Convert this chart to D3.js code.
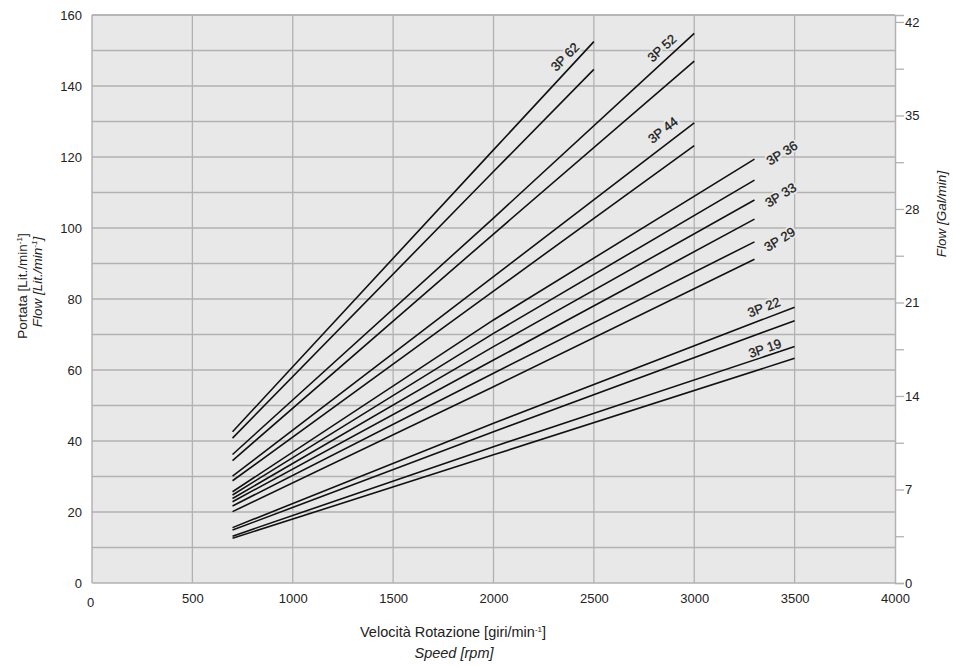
<!DOCTYPE html>
<html>
<head>
<meta charset="utf-8">
<script src="https://cdn.jsdelivr.net/npm/d3@7"></script>
<style>
  html, body { margin: 0; padding: 0; background: #fff; }
  svg { display: block; font-family: "Liberation Sans", Arial, sans-serif; }
</style>
</head>
<body>
<svg id="chart" width="953" height="667"></svg>
<script>
// ---- data ----
const models      = ["3P 62", "3P 52", "3P 44", "3P 36", "3P 33", "3P 29", "3P 22", "3P 19"];
const startSpeed  = [700, 700, 700, 700, 700, 700, 700, 700];
const midSpeed    = [2000, 2000, 2000, 2000, 2000, 2000, 2000, 2000];
const endSpeed    = [2500, 3000, 3000, 3300, 3300, 3300, 3500, 3500];
const upperStart  = [42.6, 36.2, 30.1, 25.7, 23.8, 21.7, 15.6, 13.2];
const upperMid    = [122.0, 102.8, 86.3, 74.1, 66.6, 59.1, 45.0, 38.4];
const upperEnd    = [152.5, 154.8, 129.6, 119.4, 107.9, 96.1, 77.7, 66.6];
const lowerStart  = [40.8, 34.5, 28.8, 24.8, 22.9, 20.1, 14.9, 12.6];
const lowerMid    = [115.9, 98.3, 82.2, 70.3, 62.8, 55.3, 42.6, 36.1];
const lowerEnd    = [144.7, 147.0, 123.2, 113.5, 102.5, 91.2, 73.9, 63.3];
const labelSpeed  = [2356, 2839, 2844, 3437, 3430, 3426, 3347, 3352];
const labelFlow   = [148.2, 150.7, 127.6, 121.1, 109.3, 96.8, 77.7, 66.1];
const labelAngle  = [-45, -42, -38, -32, -32, -32, -21, -19];
const xTicks      = [0, 500, 1000, 1500, 2000, 2500, 3000, 3500, 4000];
const yTicks      = [0, 20, 40, 60, 80, 100, 120, 140, 160];
const yGrid       = [10, 20, 30, 40, 50, 60, 70, 80, 90, 100, 110, 120, 130, 140, 150, 160];
const galTicks    = [0, 7, 14, 21, 28, 35, 42];
const galMinor    = [3.5, 10.5, 17.5, 24.5, 31.5, 38.5];

// ---- layout ----
const svg = d3.select("#chart");
const L = 92, R = 895, T = 15, B = 583;
const x = d3.scaleLinear().domain([0, 4000]).range([L, R]);
const y = d3.scaleLinear().domain([0, 160]).range([B, T]);
const yGal = d3.scaleLinear().domain([0, 42.52]).range([B, T]);

const gridColor = "#b2b2b2";
const bgColor = "#e8e8e8";
const textColor = "#222";
const fam = "Liberation Sans, Arial, sans-serif";

svg.append("rect").attr("x", L).attr("y", T).attr("width", R - L).attr("height", B - T)
  .attr("fill", bgColor);

// grid
svg.append("g").selectAll("line").data(yGrid).join("line")
  .attr("x1", L).attr("x2", R).attr("y1", d => y(d)).attr("y2", d => y(d))
  .attr("stroke", gridColor).attr("stroke-width", 1.3);
svg.append("g").selectAll("line").data(xTicks.slice(1, -1)).join("line")
  .attr("x1", d => x(d)).attr("x2", d => x(d)).attr("y1", T).attr("y2", B)
  .attr("stroke", gridColor).attr("stroke-width", 1.3);
// frame
svg.append("line").attr("x1", L).attr("x2", L).attr("y1", T).attr("y2", B).attr("stroke", gridColor).attr("stroke-width", 1.5);
svg.append("line").attr("x1", L).attr("x2", R).attr("y1", B).attr("y2", B).attr("stroke", gridColor).attr("stroke-width", 1.5);
svg.append("line").attr("x1", L).attr("x2", R).attr("y1", T).attr("y2", T).attr("stroke", gridColor).attr("stroke-width", 1.3);

// left axis labels
const yAxis = d3.axisLeft(y).tickValues(yTicks).tickSize(0).tickPadding(10).tickFormat(d3.format("d"));
const gy = svg.append("g").attr("transform", `translate(${L},0)`).call(yAxis);
gy.select(".domain").remove();
gy.selectAll("text").attr("font-size", 13).attr("fill", textColor).attr("font-family", fam);

// bottom axis labels
const xAxis = d3.axisBottom(x).tickValues(xTicks).tickSize(0).tickPadding(11).tickFormat(d3.format("d"));
const gx = svg.append("g").attr("transform", `translate(0,${B})`).call(xAxis);
gx.select(".domain").remove();
gx.selectAll("text").attr("font-size", 13).attr("fill", textColor).attr("font-family", fam);
gx.selectAll(".tick").filter(d => d === 0).select("text").attr("dx", -2).attr("dy", "1.0em");

// right axis
const rAxis = d3.axisRight(yGal).tickValues(galTicks).tickSize(9).tickPadding(1).tickFormat(d3.format("d"));
const gr = svg.append("g").attr("transform", `translate(${R},0)`).call(rAxis);
gr.select(".domain").attr("stroke", gridColor).attr("stroke-width", 1.5);
gr.selectAll(".tick line").attr("stroke", gridColor).attr("stroke-width", 1.3);
gr.selectAll("text").attr("font-size", 13).attr("fill", textColor).attr("font-family", fam);
const rMinor = d3.axisRight(yGal).tickValues(galMinor).tickSize(9).tickFormat("");
const grm = svg.append("g").attr("transform", `translate(${R},0)`).call(rMinor);
grm.select(".domain").remove();
grm.selectAll(".tick line").attr("stroke", gridColor).attr("stroke-width", 1.3);

// curves
const line = d3.line().x(d => x(d[0])).y(d => y(d[1]));
const curves = [];
models.forEach((m, i) => {
  curves.push([[startSpeed[i], upperStart[i]], [midSpeed[i], upperMid[i]], [endSpeed[i], upperEnd[i]]]);
  curves.push([[startSpeed[i], lowerStart[i]], [midSpeed[i], lowerMid[i]], [endSpeed[i], lowerEnd[i]]]);
});
svg.append("g").selectAll("path").data(curves).join("path")
  .attr("d", line).attr("fill", "none").attr("stroke", "#111").attr("stroke-width", 1.6);

// model labels (with background halo that hides grid behind them)
const labelTf = (d, i) => `translate(${x(labelSpeed[i])},${y(labelFlow[i])}) rotate(${labelAngle[i]})`;
svg.append("g").selectAll("text").data(models).join("text")
  .attr("transform", labelTf)
  .attr("text-anchor", "middle").attr("dominant-baseline", "central")
  .attr("font-size", 13).attr("fill", bgColor).attr("stroke", bgColor).attr("stroke-width", 4)
  .attr("stroke-linejoin", "round")
  .text(d => d);
svg.append("g").selectAll("text").data(models).join("text")
  .attr("transform", labelTf)
  .attr("text-anchor", "middle").attr("dominant-baseline", "central")
  .attr("font-size", 13).attr("fill", "#1a1a1a").attr("stroke", "#1a1a1a").attr("stroke-width", 0.3)
  .text(d => d);

// axis titles
const xt = svg.append("text").attr("x", 453).attr("y", 637).attr("text-anchor", "middle")
  .attr("font-size", 14.5).attr("fill", textColor);
xt.append("tspan").text("Velocità Rotazione [giri/min");
xt.append("tspan").attr("font-size", 8).attr("dy", -5).text("-1");
xt.append("tspan").attr("dy", 5).text("]");
svg.append("text").attr("x", 454).attr("y", 658).attr("text-anchor", "middle")
  .attr("font-size", 14.5).attr("font-style", "italic").attr("fill", textColor).text("Speed [rpm]");

const yt1 = svg.append("text").attr("transform", "translate(27,286) rotate(-90)").attr("text-anchor", "middle")
  .attr("font-size", 13.5).attr("fill", textColor);
yt1.append("tspan").text("Portata [Lit./min");
yt1.append("tspan").attr("font-size", 8).attr("dy", -5).text("-1");
yt1.append("tspan").attr("dy", 5).text("]");
const yt2 = svg.append("text").attr("transform", "translate(42,282) rotate(-90)").attr("text-anchor", "middle")
  .attr("font-size", 13.5).attr("font-style", "italic").attr("fill", textColor);
yt2.append("tspan").text("Flow [Lit./min");
yt2.append("tspan").attr("font-size", 8).attr("dy", -5).text("-1");
yt2.append("tspan").attr("dy", 5).text("]");

svg.append("text").attr("transform", "translate(946,214) rotate(-90)").attr("text-anchor", "middle")
  .attr("font-size", 13.5).attr("font-style", "italic").attr("fill", textColor).text("Flow [Gal/min]");
</script>
</body>
</html>
